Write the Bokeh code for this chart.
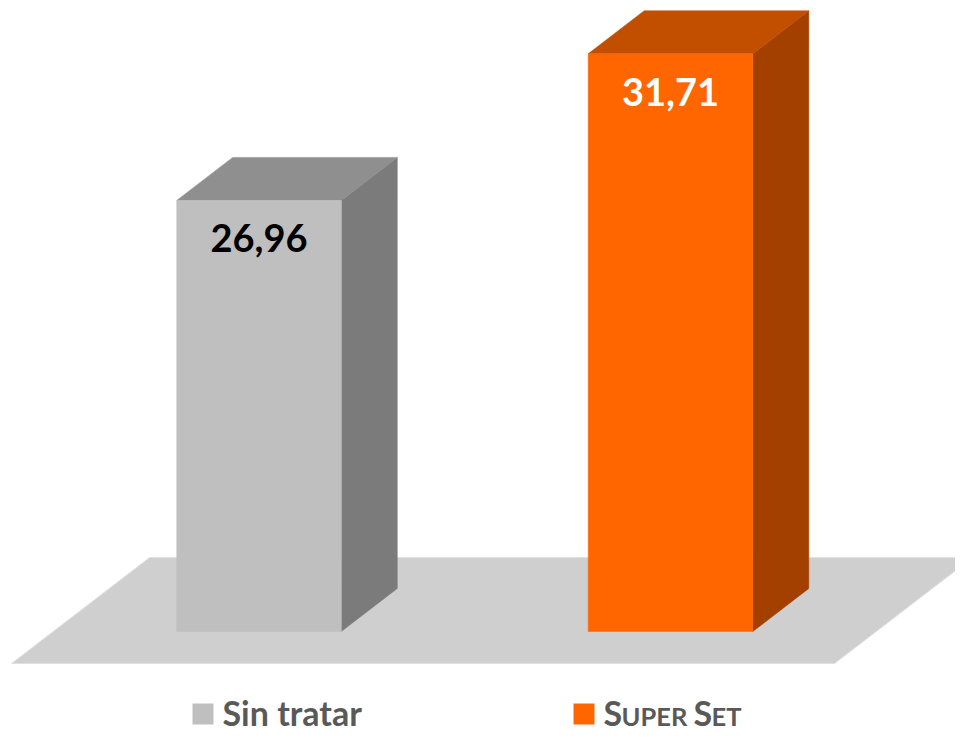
from bokeh.plotting import figure
from bokeh.models import Range1d
from bokeh.core.properties import value
from bokeh.embed import file_html
from bokeh.resources import INLINE

# ---- data ----
categories = ["Sin tratar", "SUPER SET"]
values = [26.96, 31.71]
value_labels = ["26,96", "31,71"]
axis_min = 13.0

front_colors = ["#bfbfbf", "#ff6600"]
top_colors = ["#8f8f8f", "#c24e00"]
side_colors = ["#7b7b7b", "#a34000"]
label_colors = ["#000000", "#ffffff"]

# ---- layout constants (pixel mapping of reference) ----
W, H = 955, 735
X0_PX, X_UNIT = 258.5, 411.5      # px of category 0, px per category
Y0_PX, Y_UNIT = 631.0, 30.88      # px of axis_min, px per value unit

def sx(px):
    return (px - X0_PX) / X_UNIT

def sy(py):
    return axis_min + (Y0_PX - py) / Y_UNIT

bar_w = 0.40
ddx = 56 / X_UNIT       # depth offset (x units)
ddy = 43 / Y_UNIT       # depth offset (value units)
floor_front, floor_back = -0.744, 1.721

p = figure(width=W, height=H, output_backend="svg", toolbar_location=None,
           x_range=Range1d(sx(0), sx(W)), y_range=Range1d(sy(H), sy(0)),
           min_border=0, outline_line_color=None, background_fill_color="white")
p.axis.visible = False
p.grid.visible = False

# floor
fl, fr = -0.5, len(categories) - 0.5
fx = [fl + floor_front * ddx, fr + floor_front * ddx, fr + floor_back * ddx, fl + floor_back * ddx]
fy = [axis_min + floor_front * ddy] * 2 + [axis_min + floor_back * ddy] * 2
p.patch(fx, fy, fill_color="#cfcfcf", line_color="#e0e0e0", line_width=1)

# bars
for i, v in enumerate(values):
    l, r = i - bar_w / 2, i + bar_w / 2
    p.patch([r, r + ddx, r + ddx, r], [axis_min, axis_min + ddy, v + ddy, v],
            fill_color=side_colors[i], line_color=side_colors[i], line_width=0.5)
    p.patch([l, r, r + ddx, l + ddx], [v, v, v + ddy, v + ddy],
            fill_color=top_colors[i], line_color=top_colors[i], line_width=0.5)
    p.quad(left=l, right=r, bottom=axis_min, top=v,
           fill_color=front_colors[i], line_color=front_colors[i], line_width=0.5)

# value labels
p.text(x=list(range(len(values))), y=values, text=value_labels, y_offset=38,
       text_color=label_colors, text_font=value("Lato"), text_font_style="bold",
       text_font_size="38px", text_align="center", text_baseline="middle")

# custom legend
leg_base = 724
sq_lefts = [192, 573]
for i in range(len(categories)):
    p.rect(x=[sx(sq_lefts[i] + 10.5)], y=[sy(leg_base - 10.5)], width=21, height=21,
           width_units="screen", height_units="screen",
           fill_color=front_colors[i], line_color=None)

legend_pieces = [  # (x px, text, size, cap half-height)
    (222, "Sin tratar", "34px", 12),
    (603, "S", "34px", 12),
    (621, "UPER", "25.5px", 9),
    (693, "S", "34px", 12),
    (711, "ET", "25.5px", 9),
]
for x_px, t, size, half in legend_pieces:
    p.text(x=[sx(x_px)], y=[sy(leg_base - half)], text=[t], text_color="#595959",
           text_font=value("Lato"), text_font_style="bold", text_font_size=size,
           text_align="left", text_baseline="middle")

open("out.html", "w").write(file_html(p, INLINE))
